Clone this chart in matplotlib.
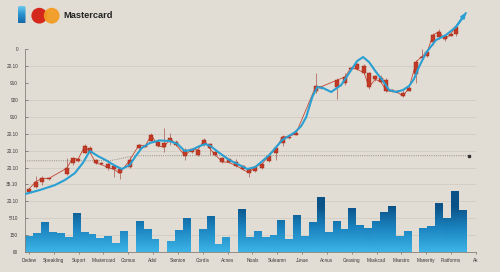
import numpy as np
import matplotlib
matplotlib.use('Agg')
import matplotlib.pyplot as plt
from matplotlib.colors import LinearSegmentedColormap
from matplotlib.patches import Circle, FancyBboxPatch

plt.rcParams['font.family'] = ['Liberation Sans', 'DejaVu Sans']

bg = '#e1dcd4'
blue = '#2a9fd2'
red = '#c33a26'

labels = ['Dedew', 'Speakling', 'Suport', 'Mastercard', 'Comus', 'Adsl', 'Samion',
          'Cordis', 'Acnes', 'Noals', 'Suleamn', 'Junue', 'Acnus', 'Ceasing',
          'Maskcad', 'Maestro', 'Manerity', 'Platforms', 'Ak']
ytext = ['00', '150', '5/10', '20.10', '35.10', '20.10', '20.10', '20.10',
         '910', '920', '910', '20.10', '0']

nan = np.nan
volume = [0.89, 1.11, 1.76, 1.14, 1.11, 0.87, 2.27, 1.14, 1.01, 0.77, 0.91, 0.49, 1.24,
          nan, 1.82, 1.34, 0.75, nan, 0.61, 1.30, 1.97, nan, 1.34, 2.11, 0.43, 0.87,
          nan, 2.50, 0.87, 1.24, 0.87, 0.95, 1.89, 0.75, 2.17, 0.91, 1.76, 3.21, 1.17,
          1.83, 1.32, 2.59, 1.54, 1.42, 1.79, 2.33, 2.68, 0.93, 1.22, nan, 1.38, 1.48,
          2.86, 2.01, 3.61, 2.44]

# candles
cx = [0.0, 1.35, 2.67, 4.02, 7.57, 8.78, 9.90, 11.24, 12.25, 13.45, 14.60, 15.92,
      17.13, 18.27, 20.28, 22.15, 23.43, 24.64, 25.96, 27.17, 28.45, 29.66, 31.39,
      32.73, 34.00, 35.28, 36.35, 37.55, 38.90, 40.22, 41.71, 43.03, 44.24, 45.58,
      46.93, 48.25, 49.74, 51.06, 52.27, 53.76, 57.77, 58.78, 62.11, 63.65, 64.80,
      66.12, 67.47, 68.47, 69.68, 70.82, 71.95, 73.15, 74.16, 75.30, 76.51, 77.97,
      79.06, 80.18, 81.33, 82.53, 83.73, 84.88, 85.88]
c_open = [3.55, 3.86, 4.16, 4.30, 4.62, 5.28, 5.38, 5.88, 6.14, 5.44, 5.25, 5.19,
          5.09, 4.89, 5.05, 6.14, 6.24, 6.59, 6.53, 6.47, 6.53, 6.53, 6.04, 5.92,
          5.74, 6.37, 6.39, 5.92, 5.54, 5.48, 5.34, 5.09, 4.89, 4.81, 4.95, 5.38,
          5.84, 6.43, 6.75, 6.95, 9.54, 9.72, 9.75, 10.02, 10.82, 11.12, 11.01,
          10.61, 10.41, 10.28, 10.18, 9.58, 9.52, 9.43, 9.55, 10.53, 11.48, 11.60,
          12.44, 12.70, 12.78, 12.80, 12.90]
c_close = [3.73, 4.16, 4.36, 4.36, 4.95, 5.54, 5.50, 6.27, 5.93, 5.25, 5.18, 4.99,
           4.89, 4.66, 5.44, 6.33, 6.30, 6.92, 6.29, 6.20, 6.73, 6.33, 5.70, 6.08,
           6.04, 6.63, 6.14, 5.74, 5.34, 5.30, 5.11, 4.89, 4.69, 5.05, 5.21, 5.68,
           6.14, 6.82, 6.82, 7.02, 9.82, 9.78, 10.18, 10.37, 10.90, 10.81, 10.61,
           9.75, 10.22, 10.08, 9.54, 9.50, 9.46, 9.23, 9.70, 11.26, 11.56, 11.85,
           12.84, 13.04, 12.60, 12.88, 13.33]
c_high = [3.80, 4.50, 4.50, 4.40, 5.56, 5.64, 5.56, 6.39, 6.27, 5.50, 5.30, 5.34,
          5.15, 5.05, 5.60, 6.40, 6.36, 7.04, 6.69, 7.32, 7.02, 6.60, 6.14, 6.15,
          6.10, 6.75, 6.45, 6.00, 5.62, 5.56, 5.49, 5.15, 4.95, 5.12, 5.28, 5.86,
          6.23, 6.92, 6.90, 7.08, 10.57, 9.85, 10.30, 10.59, 10.95, 11.20, 11.10,
          10.67, 10.48, 10.47, 10.28, 9.62, 9.56, 9.59, 9.75, 11.36, 12.00, 11.99,
          12.94, 13.18, 12.85, 12.92, 13.43]
c_low = [3.50, 3.77, 3.95, 4.24, 4.56, 5.15, 5.33, 5.86, 5.86, 5.20, 5.12, 4.85,
         4.42, 4.30, 4.95, 6.08, 6.20, 6.51, 6.21, 5.93, 6.33, 6.25, 5.44, 5.85,
         5.68, 6.27, 5.74, 5.68, 5.28, 5.24, 5.01, 4.85, 4.44, 4.75, 4.90, 5.33,
         5.44, 6.27, 6.70, 6.90, 9.39, 9.65, 9.04, 9.88, 10.78, 10.75, 10.55,
         9.63, 10.15, 9.98, 9.49, 9.46, 9.42, 9.19, 9.50, 9.98, 11.40, 11.52,
         12.25, 12.59, 12.50, 12.76, 12.78]

# smoothed trend line (blue)
trend_x = [-0.80, 2.21, 5.22, 7.23, 9.24, 10.84, 12.25, 13.86, 15.46, 17.07, 18.67,
           20.28, 21.49, 22.69, 24.30, 26.31, 28.31, 29.92, 31.33, 32.73, 34.34,
           35.54, 36.55, 38.35, 40.36, 42.37, 43.98, 45.58, 46.79, 48.39, 51.00,
           53.61, 54.82, 55.82, 57.03, 58.03, 59.24, 60.84, 62.85, 64.46, 66.06,
           67.27, 68.47, 69.88, 71.29, 72.49, 73.90, 75.30, 76.51, 77.51, 78.51,
           79.92, 81.93, 83.94, 85.94, 87.95]
trend_y = [3.43, 3.67, 3.96, 4.26, 4.67, 5.27, 5.98, 5.68, 5.44, 5.15, 4.91, 5.15,
           5.68, 6.15, 6.45, 6.60, 6.57, 6.39, 5.98, 6.04, 6.27, 6.39, 6.27, 5.86,
           5.44, 5.15, 4.91, 5.03, 5.33, 5.74, 6.63, 7.10, 7.46, 7.99, 9.17, 9.76,
           9.70, 9.47, 9.88, 10.59, 11.30, 11.54, 11.24, 10.65, 10.12, 9.59, 9.47,
           9.59, 9.82, 10.24, 10.95, 11.78, 12.54, 12.84, 13.31, 14.14]

level_x = [-0.8, 16.3, 21.3, 88.5]
level_y = [5.40, 5.40, 5.70, 5.70]

fig = plt.figure(figsize=(5, 2.72), dpi=100, facecolor=bg)
ax = fig.add_axes([0.05, 0.0735, 0.902, 0.897])
ax.set_facecolor('none')

# grid
for v in [1, 2, 3, 4, 5, 6, 7, 8, 9, 11]:
    ax.axhline(v, color='#d1ccc4', lw=0.6, zorder=0)

# volume bars, gradient fill
cmap = LinearSegmentedColormap.from_list('vol', ['#3cb4e6', '#1c86c2', '#0a5287'])
bar_x = np.arange(len(volume)) * 1.586
for x, h in zip(bar_x, volume):
    if np.isnan(h):
        continue
    grad = np.linspace(0, h, 60).reshape(-1, 1)
    ax.imshow(grad, extent=[x - 0.72, x + 0.72, 0, h], origin='lower', aspect='auto',
              cmap=cmap, vmin=0, vmax=2.7, zorder=2)

# dotted level
ax.plot(level_x, level_y, color='#918b83', lw=0.7, ls=(0, (1, 1.3)), zorder=1)
ax.plot(level_x[-1], level_y[-1], marker='s', ms=2, color='#333333', zorder=1)

# candles
c_open = np.array(c_open)
c_close = np.array(c_close)
ax.vlines(cx, c_low, c_high, color='#a85a4c', lw=0.5, zorder=3)
ax.plot(cx, c_close, color=red, lw=0.55, zorder=3.5)
ax.bar(cx, np.maximum(np.abs(c_close - c_open), 0.06), bottom=np.minimum(c_open, c_close),
       width=0.8, color=red, edgecolor='#9c2a18', linewidth=0.3, zorder=4)

# trend
ax.plot(trend_x, trend_y, color=blue, lw=1.5, zorder=5,
        solid_capstyle='round', solid_joinstyle='round')
ax.annotate('', xy=(trend_x[-1], trend_y[-1]), xytext=(trend_x[-2], trend_y[-2]),
            arrowprops=dict(arrowstyle='-|>', color=blue, lw=1.5, mutation_scale=6,
                            shrinkA=0, shrinkB=0), zorder=6)

ax.set_xlim(-0.8, 89.76)
ax.set_ylim(0, 14.44)
ax.set_xticks(np.arange(len(labels)) * 5)
ax.set_xticklabels(labels)
ax.set_yticks(range(len(ytext)))
ax.set_yticklabels(ytext)
ax.tick_params(axis='x', length=1.5, width=0.5, pad=3, color='#666666',
               labelsize=3.4, labelcolor='#3a3a3a')
ax.tick_params(axis='y', direction='in', length=2, width=0.5, pad=5, color='#666666',
               labelsize=3.4, labelcolor='#3a3a3a')
for s in ['top', 'right']:
    ax.spines[s].set_visible(False)
ax.spines['left'].set_bounds(0, 12)
for s in ['left', 'bottom']:
    ax.spines[s].set_color('#85807a')
    ax.spines[s].set_linewidth(0.6)

# header logo
hd = fig.add_axes([0, 0, 1, 1])
cmap2 = LinearSegmentedColormap.from_list('logo', ['#74cff1', '#2a93cf', '#156aa8'])
im = hd.imshow(np.linspace(0, 1, 40).reshape(-1, 1), extent=[18, 25.5, 23.5, 6],
               aspect='auto', cmap=cmap2)
box = FancyBboxPatch((18, 6), 7.5, 17.5, boxstyle='round,pad=0,rounding_size=1.5',
                     facecolor='none', edgecolor='none')
hd.add_patch(box)
im.set_clip_path(box)
hd.add_patch(Circle((39.3, 15.7), 7.2, color='#d5281d'))
hd.add_patch(Circle((51.7, 15.7), 7.2, color='#f49b1f', alpha=0.92))
hd.text(63, 16, 'Mastercard', fontsize=6.7, fontweight='bold', color='#232323', va='center')
hd.set_xlim(0, 500)
hd.set_ylim(272, 0)
hd.axis('off')

fig.savefig('out.png', dpi=100, facecolor=bg)
